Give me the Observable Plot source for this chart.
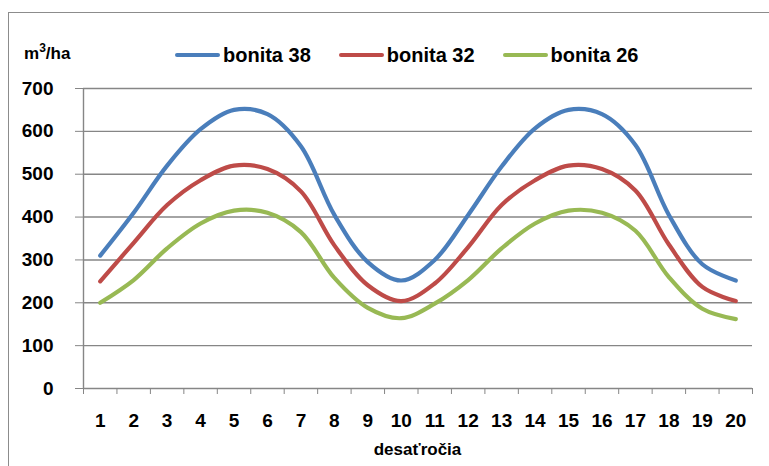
<!DOCTYPE html>
<html><head><meta charset="utf-8">
<script src="https://cdn.jsdelivr.net/npm/d3@7"></script>
<script src="https://cdn.jsdelivr.net/npm/@observablehq/plot@0.6"></script>
<style>
body{margin:0;background:#fff;}
#wrap{position:relative;width:769px;height:466px;overflow:hidden;font-family:"Liberation Sans Narrow","Liberation Sans",Arial,sans-serif;font-weight:bold;color:#000;}
#frame{position:absolute;left:8px;top:12px;width:900px;height:600px;border:1px solid #8c8c8c;box-sizing:border-box;}
#chart{position:absolute;left:0;top:0;}
#chart svg text{font-weight:bold;}
#unit{position:absolute;left:24px;top:41px;font-size:17px;}
#unit sup{font-size:12px;}
#legend{position:absolute;left:175px;top:43px;display:flex;align-items:center;font-size:20px;line-height:24px;}
.item{display:flex;align-items:center;margin-right:28px;}
.sw{width:45px;height:4.5px;margin-right:3px;border-radius:2px;}
#xlab{position:absolute;left:0;width:835px;top:440px;text-align:center;font-size:17px;}
</style></head>
<body>
<div id="wrap">
  <div id="frame"></div>
  <div id="chart"></div>
  <div id="unit">m<sup>3</sup>/ha</div>
  <div id="legend"></div>
  <div id="xlab">desaťročia</div>
</div>
<script>
const decades = [1,2,3,4,5,6,7,8,9,10,11,12,13,14,15,16,17,18,19,20];
const seriesNames = ["bonita 38","bonita 32","bonita 26"];
const bonita38 = [310,410,520,605,650,640,565,405,295,252,300,405,518,607,650,640,568,405,290,252];
const bonita32 = [250,340,428,486,520,512,460,334,241,204,245,330,428,486,520,512,462,336,237,204];
const bonita26 = [200,253,327,385,415,410,365,258,188,164,198,253,327,385,415,410,368,260,186,162];
const colors = ["#4A7EBB","#BE4B48","#98B954"];
const yTicks = [0,100,200,300,400,500,600,700];

const values = [bonita38, bonita32, bonita26];
const rows = [];
seriesNames.forEach((s, i) => decades.forEach((d, j) => rows.push({decade: d, value: values[i][j], series: s})));
const bounds = [decades[0] - 0.5, ...decades.map(d => d + 0.5)];
const grid = "#868686";

const chart = Plot.plot({
  width: 769, height: 466,
  marginLeft: 83, marginRight: 17, marginTop: 88, marginBottom: 78,
  style: {fontFamily: '"Liberation Sans Narrow","Liberation Sans",Arial,sans-serif', background: "transparent"},
  x: {domain: [bounds[0], bounds[bounds.length - 1]], label: null},
  y: {domain: [yTicks[0], yTicks[yTicks.length - 1]], label: null},
  color: {domain: seriesNames, range: colors},
  marks: [
    Plot.ruleY(yTicks.slice(1), {stroke: grid, strokeWidth: 1.4}),
    Plot.ruleY([0], {stroke: grid, strokeWidth: 1.4}),
    Plot.ruleX([bounds[0]], {y1: yTicks[0], y2: yTicks[yTicks.length - 1], stroke: grid, strokeWidth: 1.4}),
    Plot.axisY({ticks: yTicks, tickSize: 8, tickPadding: 22, label: null, fontSize: 19, stroke: grid, fill: "#000"}),
    Plot.axisX({ticks: bounds, tickSize: 6, tickFormat: () => "", label: null, stroke: grid}),
    Plot.axisX({ticks: decades, tickSize: 0, tickPadding: 25, tickFormat: d => String(d), label: null, fontSize: 19, fill: "#000"}),
    Plot.line(rows, {x: "decade", y: "value", z: "series", stroke: "series", strokeWidth: 4.2, curve: "catmull-rom"})
  ]
});
document.getElementById("chart").appendChild(chart);

const legend = document.getElementById("legend");
seriesNames.forEach((s, i) => {
  const it = document.createElement("div"); it.className = "item";
  const sw = document.createElement("div"); sw.className = "sw"; sw.style.background = colors[i];
  const tx = document.createElement("span"); tx.textContent = s;
  it.appendChild(sw); it.appendChild(tx); legend.appendChild(it);
});
</script>
</body></html>
